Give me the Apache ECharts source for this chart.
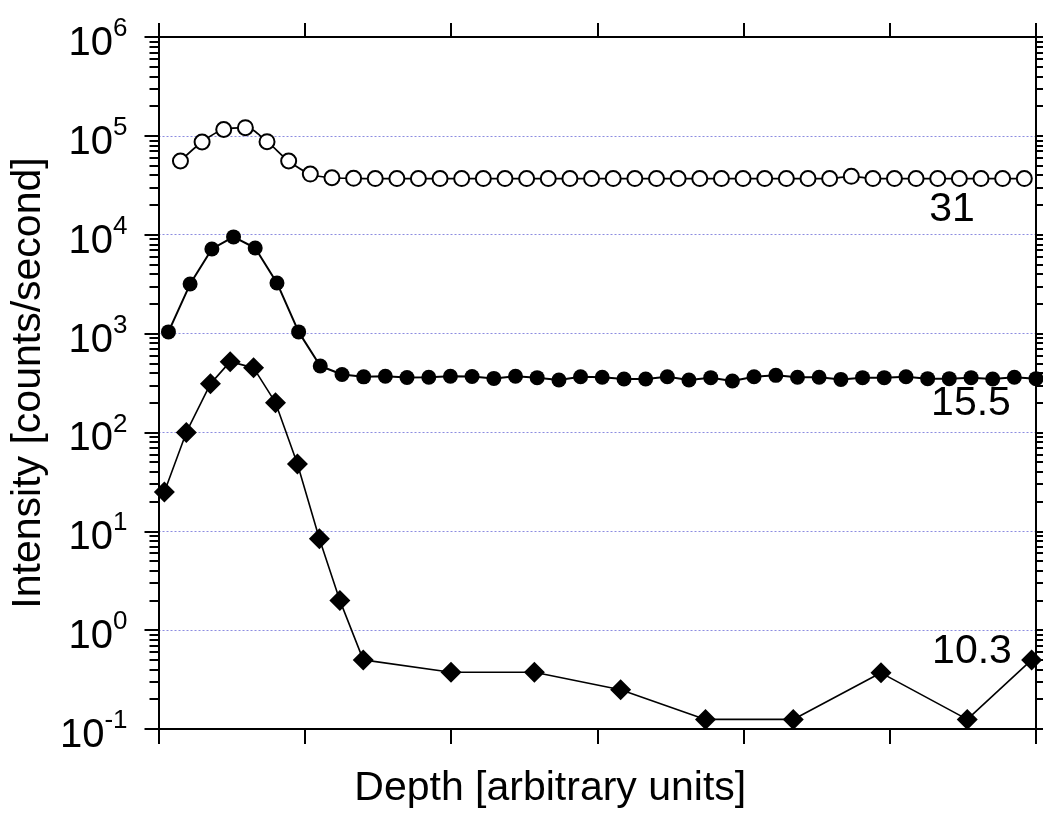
<!DOCTYPE html>
<html><head><meta charset="utf-8">
<script src="https://cdn.jsdelivr.net/npm/echarts@6/dist/echarts.min.js"></script>
<style>html,body{margin:0;padding:0;background:#fff}#c{width:1043px;height:822px}</style>
</head><body><div id="c"></div>
<script>
// ---- data ----
const seriesNames = ['31', '15.5', '10.3'];
const xOpen = [0.150,0.298,0.446,0.594,0.742,0.890,1.038,1.186,1.334,1.482,1.630,1.777,1.925,2.073,2.221,2.369,2.517,2.665,2.813,2.961,3.109,3.257,3.405,3.553,3.701,3.849,3.997,4.145,4.293,4.441,4.589,4.737,4.885,5.032,5.180,5.328,5.476,5.624,5.772,5.920];
const yOpen = [55700,86700,116000,121000,87300,55700,41100,37700,37200,37000,37000,37000,37000,37000,37000,37000,37000,37000,37000,37000,37000,37000,37000,37000,37000,37000,37000,37000,37000,37000,37000,39000,37000,37000,37000,37000,37000,37000,37000,37000];
const xFilled = [0.068,0.216,0.365,0.513,0.661,0.810,0.958,1.106,1.255,1.403,1.551,1.699,1.848,1.996,2.144,2.293,2.441,2.589,2.738,2.886,3.034,3.183,3.331,3.479,3.627,3.776,3.924,4.072,4.221,4.369,4.517,4.666,4.814,4.962,5.111,5.259,5.407,5.556,5.704,5.852,6.000];
const yFilled = [1040,3170,7170,9500,7340,3250,1040,470,385,365,370,360,362,370,368,352,370,358,339,366,361,347,347,366,339,358,331,366,378,361,361,344,358,358,366,350,350,358,347,361,350];
const xDiamond = [0.04,0.19,0.355,0.49,0.65,0.80,0.95,1.10,1.24,1.40,2.00,2.57,3.16,3.74,4.34,4.94,5.53,5.97];
const yDiamond = [25,100,310,520,450,200,48,8.4,2.0,0.5,0.375,0.375,0.25,0.125,0.125,0.37,0.125,0.5];
const yTickExponents = [-1,0,1,2,3,4,5,6];
const minorMantissas = [2,3,4,5,6,7,8,9];
const xAxisTitle = 'Depth [arbitrary units]';
const yAxisTitle = 'Intensity [counts/second]';

const FF = '"Liberation Sans", Arial, sans-serif';
const minorTickValues = [];
yTickExponents.slice(0, -1).forEach(e => minorMantissas.forEach(m => minorTickValues.push(m * Math.pow(10, e))));

const pairs = (xs, ys) => xs.map((x, i) => [x, ys[i]]);
const axisLine = { show: true, lineStyle: { color: '#000', width: 2 } };
const yMin = Math.pow(10, yTickExponents[0]);
const yMax = Math.pow(10, yTickExponents[yTickExponents.length - 1]);

function yAx(pos, major) {
  const a = {
    type: 'log', logBase: 10, min: yMin, max: yMax, position: pos,
    axisLine: axisLine,
    axisTick: { show: true, length: major ? 14 : 9, lineStyle: { color: '#000', width: 2 } },
    axisLabel: { show: false },
    splitLine: { show: false },
    minorTick: { show: false }
  };
  if (!major) { a.axisTick.customValues = minorTickValues; a.axisLine = { show: false }; }
  return a;
}

const yMain = yAx('left', true);
yMain.axisLabel = {
  show: true, margin: 31,
  formatter: v => {
    const e = Math.round(Math.log10(v));
    return yTickExponents.indexOf(e) >= 0 ? '{a|10}{b|' + e + '}' : '';
  },
  rich: {
    a: { fontSize: 40, fontFamily: FF, color: '#000', padding: [14, 0, 0, 0] },
    b: { fontSize: 26, fontFamily: FF, color: '#000', verticalAlign: 'top', padding: [6, 0, 0, 0] }
  }
};
yMain.splitLine = { show: true, lineStyle: { color: '#8c8ce0', width: 1, type: [2, 2] } };
yMain.name = yAxisTitle;
yMain.nameLocation = 'middle';
yMain.nameGap = 106;
yMain.nameTextStyle = { fontSize: 41, fontFamily: FF, color: '#000' };

const option = {
  animation: false,
  backgroundColor: '#fff',
  grid: { left: 156, right: 7, top: 37, bottom: 93 },
  xAxis: [
    { type: 'value', min: 0, max: 6, interval: 1, position: 'bottom',
      axisLine: axisLine, axisTick: { show: true, length: 15, lineStyle: { color: '#000', width: 2 } },
      axisLabel: { show: false }, splitLine: { show: false },
      name: xAxisTitle, nameLocation: 'middle', nameGap: 39,
      nameTextStyle: { fontSize: 41, fontFamily: FF, color: '#000', padding: [0, 94, 0, 0] } },
    { type: 'value', min: 0, max: 6, interval: 1, position: 'top',
      axisLine: axisLine, axisTick: { show: true, length: 14, lineStyle: { color: '#000', width: 2 } },
      axisLabel: { show: false }, splitLine: { show: false } }
  ],
  yAxis: [yMain, yAx('left', false), yAx('right', true), yAx('right', false)],
  series: [
    { name: seriesNames[0], type: 'line', xAxisIndex: 0, yAxisIndex: 0, data: pairs(xOpen, yOpen),
      smooth: 0.35, symbol: 'emptyCircle', symbolSize: 15, clip: false,
      lineStyle: { color: '#000', width: 1.7 }, itemStyle: { color: '#000', borderColor: '#000', borderWidth: 1.2 } },
    { name: seriesNames[1], type: 'line', xAxisIndex: 0, yAxisIndex: 0, data: pairs(xFilled, yFilled),
      symbol: 'circle', symbolSize: 15, clip: false,
      lineStyle: { color: '#000', width: 2 }, itemStyle: { color: '#000' } },
    { name: seriesNames[2], type: 'line', xAxisIndex: 0, yAxisIndex: 0, data: pairs(xDiamond, yDiamond),
      symbol: 'diamond', symbolSize: 21, clip: false,
      lineStyle: { color: '#000', width: 1.6 }, itemStyle: { color: '#000' } }
  ],
  graphic: [
    { type: 'text', x: 952, y: 210, style: { text: seriesNames[0], fontSize: 41, fontFamily: FF, fill: '#000', align: 'center', verticalAlign: 'middle' } },
    { type: 'text', x: 971, y: 404, style: { text: seriesNames[1], fontSize: 41, fontFamily: FF, fill: '#000', align: 'center', verticalAlign: 'middle' } },
    { type: 'text', x: 972, y: 652, style: { text: seriesNames[2], fontSize: 41, fontFamily: FF, fill: '#000', align: 'center', verticalAlign: 'middle' } }
  ]
};
const chart = echarts.init(document.getElementById('c'), null, { renderer: 'canvas' });
chart.setOption(option);
</script></body></html>
